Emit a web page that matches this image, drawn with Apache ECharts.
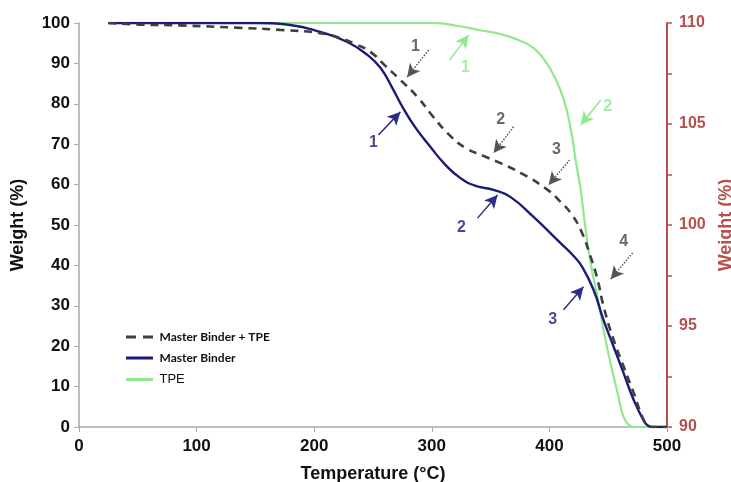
<!DOCTYPE html>
<html><head><meta charset="utf-8">
<script src="https://cdn.jsdelivr.net/npm/echarts@6/dist/echarts.min.js"></script>
<style>html,body{margin:0;padding:0;background:#fff}#c{width:731px;height:482px}</style>
</head><body><div id="c"></div>
<script>
// Temperature (°C), weight (%) pairs
const blendData = [[25,100],[52,99.6],[86,99.4],[137,98.8],[171,98.3],[205,97.5],[222,96.3],[235,94.8],[248,92.8],[260.5,89.4],[273.3,85.9],[287.8,81.7],[301.4,76.7],[315.9,72],[328.6,69.1],[343.9,67.1],[358.5,65.3],[375.5,62.9],[398.5,58.7],[409.5,55.7],[418,53],[426.6,48.8],[435.1,42.1],[441,36.4],[446.2,29.7],[454.7,21.5],[463.2,14.9],[471.7,8.4],[480.2,1.7],[484,0.4],[487,0],[500,0]];
const binderData = [[25,100],[150,100],[179.6,99.5],[205.2,97.8],[228.2,95.3],[245.2,92.1],[256.3,88.9],[266.5,83.9],[275.9,78.8],[286.1,74.1],[298.9,69.3],[311.6,64.9],[324.4,61.6],[337.2,59.7],[352.5,58.7],[367,56.9],[386.5,52],[409.5,45.5],[420,42.5],[428,39.6],[437.6,33.9],[446,26.5],[454.7,19.8],[463,13.4],[471.7,6.7],[480,1.7],[484,0.3],[488,0],[500,0]];
const tpeData = [[25,100],[300,100],[324,99.2],[341,98.2],[358,97.3],[375,95.6],[386,93.9],[395,91.2],[403.6,87.1],[412,81.2],[418,74],[422.3,66.1],[426.6,58.7],[430,50.7],[435,40.6],[441,32.2],[446,24],[452,15.8],[458,8.4],[463,2.5],[468,0.4],[472,0],[500,0]];

const seriesNames = ['Master Binder + TPE', 'Master Binder', 'TPE'];
const xTicks = [0, 100, 200, 300, 400, 500];
const yTicksLeft = [0, 100];
const yTicksRight = [90, 110];

// annotation arrows: [startX, startY, tipX, tipY]
const blendArrows = [[297.3,93.3,279,86.6],[369.5,74.3,352.5,67.8],[417.2,66.1,399.3,59.9],[470.8,43.1,452.1,36.6]];
const binderArrows = [[254.6,72.3,273.3,78],[338.9,51.7,355.9,57.4],[412,29,429,34.7]];
const tpeArrows = [[315,90.8,331.2,97],[443.6,80.9,426.6,74.8]];
// annotation numbers: [x, y, text]
const blendLabels = [[286.2,94.1,'1'],[358.5,76,'2'],[406.1,68.6,'3'],[463.2,45.8,'4']];
const binderLabels = [[250.3,70.5,'1'],[325.2,49.3,'2'],[402.7,26.5,'3']];
const tpeLabels = [[328.6,88.9,'1'],[449.6,79.2,'2']];

const C_BLEND = '#3f3f3f', C_BINDER = '#1b1b78', C_TPE = '#90e890', C_RIGHT = '#b5504e';

function arrows(list, color, type) {
  return {
    silent: true, animation: false,
    symbol: ['none', 'arrow'], symbolSize: [10, 13],
    label: {show: false},
    lineStyle: {color: color, width: 1.5, type: type},
    emphasis: {disabled: true},
    data: list.map(a => [{coord: [a[0], a[1]]}, {coord: [a[2], a[3]]}])
  };
}
function labels(name, list, color) {
  return {
    name: name, type: 'scatter', symbolSize: 0, silent: true,
    data: list.map(l => ({value: [l[0], l[1]], label: {formatter: l[2]}})),
    label: {show: true, position: 'inside', color: color, fontSize: 16, fontWeight: 'bold', fontFamily: 'Liberation Sans'}
  };
}

const DASH_ICON = 'path://M0,0 H10 V3 H0 Z M17,0 H27 V3 H17 Z';
const LINE_ICON = 'path://M0,0 H27 V3 H0 Z';

const chart = echarts.init(document.getElementById('c'), null, {renderer: 'canvas'});
chart.setOption({
  animation: false,
  backgroundColor: '#fff',
  grid: {left: 79, right: 64, top: 23, bottom: 55, containLabel: false, outerBoundsMode: 'none'},
  legend: {
    left: 121, top: 326, orient: 'vertical', itemWidth: 30, itemHeight: 3, itemGap: 9,
    selectedMode: false,
    textStyle: {fontFamily: 'Lato', fontSize: 12, fontWeight: 'bold', color: '#111'},
    data: [
      {name: seriesNames[0], icon: DASH_ICON},
      {name: seriesNames[1], icon: LINE_ICON},
      {name: seriesNames[2], icon: LINE_ICON, textStyle: {fontFamily: 'Liberation Sans', fontWeight: 'normal', fontSize: 13}}
    ]
  },
  xAxis: {
    type: 'value', min: xTicks[0], max: xTicks[xTicks.length - 1], interval: 100,
    name: 'Temperature (°C)', nameLocation: 'middle', nameGap: 38,
    nameTextStyle: {fontFamily: 'Liberation Sans', fontWeight: 'bold', fontSize: 18, color: '#111'},
    axisLine: {lineStyle: {color: '#aaa', width: 1.5}},
    axisTick: {show: true, length: 5, lineStyle: {color: '#aaa'}},
    axisLabel: {fontFamily: 'Liberation Sans', fontWeight: 'bold', fontSize: 17, color: '#111', margin: 11},
    splitLine: {show: false}
  },
  yAxis: [{
    type: 'value', min: yTicksLeft[0], max: yTicksLeft[1], interval: 10,
    name: 'Weight (%)', nameLocation: 'middle', nameGap: 52, nameRotate: 90,
    nameTextStyle: {fontFamily: 'Liberation Sans', fontWeight: 'bold', fontSize: 18, color: '#111'},
    axisLine: {show: true, lineStyle: {color: '#aaa', width: 1.5}},
    axisTick: {show: true, length: 5, lineStyle: {color: '#aaa'}},
    axisLabel: {fontFamily: 'Liberation Sans', fontWeight: 'bold', fontSize: 17, color: '#111', margin: 9},
    splitLine: {show: false}
  }, {
    type: 'value', position: 'right', min: yTicksRight[0], max: yTicksRight[1], interval: 2.5,
    name: 'Weight (%)', nameLocation: 'middle', nameGap: 48, nameRotate: 90,
    nameTextStyle: {fontFamily: 'Liberation Sans', fontWeight: 'bold', fontSize: 18, color: C_RIGHT},
    axisLine: {show: true, lineStyle: {color: C_RIGHT, width: 2}},
    axisTick: {show: true, length: 5, lineStyle: {color: C_RIGHT, width: 1.5}},
    axisLabel: {fontFamily: 'Liberation Sans', fontWeight: 'bold', fontSize: 16, color: C_RIGHT, margin: 12,
      formatter: v => (v % 5 === 0 ? String(v) : '')},
    splitLine: {show: false}
  }],
  series: [
    {name: seriesNames[2], type: 'line', data: tpeData, smooth: 0.5, symbol: 'none', z: 2,
      color: C_TPE, lineStyle: {color: C_TPE, width: 2.2}, markLine: arrows(tpeArrows, C_TPE, 'solid')},
    {name: seriesNames[1], type: 'line', data: binderData, smooth: 0.5, symbol: 'none', z: 3,
      color: C_BINDER, lineStyle: {color: C_BINDER, width: 2.4}, markLine: arrows(binderArrows, '#2c2c8c', 'solid')},
    {name: seriesNames[0], type: 'line', data: blendData, smooth: 0.5, symbol: 'none', z: 4,
      color: C_BLEND, lineStyle: {color: C_BLEND, width: 2.6, type: [8, 6]}, markLine: arrows(blendArrows, '#555', 'dotted')},
    labels('blendNums', blendLabels, '#444'),
    labels('binderNums', binderLabels, C_BINDER),
    labels('tpeNums', tpeLabels, C_TPE)
  ]
});
</script></body></html>
